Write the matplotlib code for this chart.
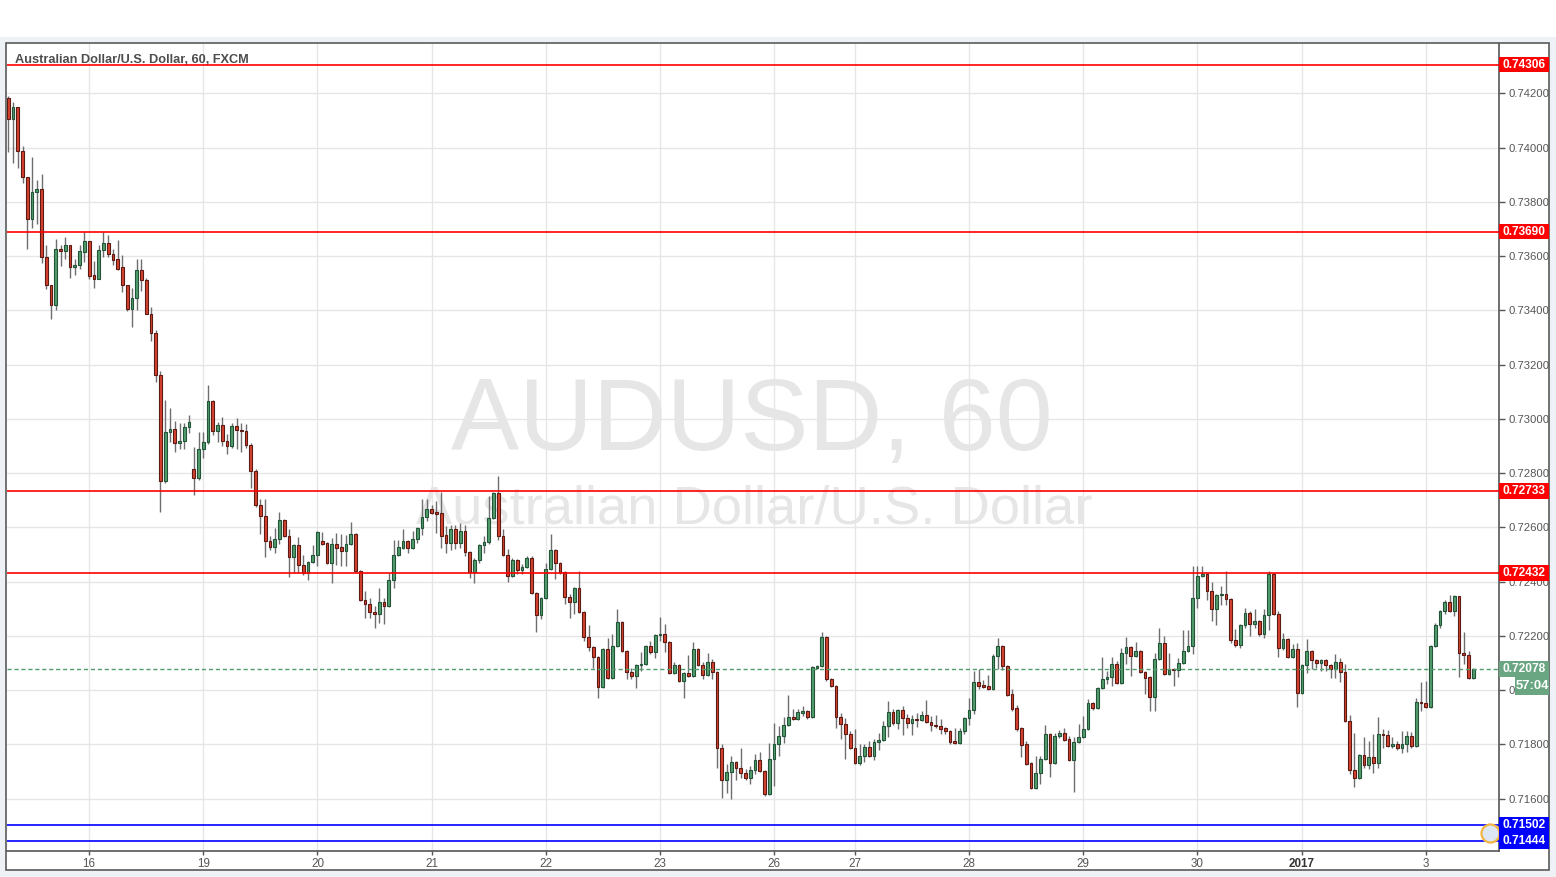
import matplotlib
matplotlib.use('Agg')
import matplotlib.pyplot as plt
from matplotlib.patches import Rectangle
import matplotlib.transforms as mtransforms
import numpy as np

plt.rcParams['font.family'] = ['Liberation Sans', 'DejaVu Sans']

# ---------------- data (AUD/USD, 60 min candles) ----------------
opens = [
0.74181,0.74104,0.74148,0.73986,0.73890,0.73738,0.73835,0.73849,0.73595,0.73495,
0.73418,0.73627,0.73617,0.73642,0.73558,0.73566,0.73614,0.73657,0.73529,0.73514,
0.73621,0.73650,0.73606,0.73588,0.73558,0.73495,0.73406,0.73447,0.73547,0.73510,
0.73388,0.73318,0.73160,0.72772,0.72952,0.72963,0.72912,0.72919,0.72971,0.72816,
0.72783,0.72889,0.72915,0.73067,0.72956,0.72978,0.72919,0.72901,0.72975,0.72960,
0.72956,0.72904,0.72809,0.72683,0.72643,0.72550,0.72528,0.72557,0.72628,0.72569,
0.72492,0.72535,0.72462,0.72433,0.72473,0.72499,0.72550,0.72543,0.72470,0.72539,
0.72528,0.72514,0.72539,0.72576,0.72440,0.72333,0.72318,0.72288,0.72281,0.72325,
0.72311,0.72407,0.72499,0.72524,0.72550,0.72524,0.72557,0.72598,0.72639,0.72668,
0.72657,0.72654,0.72572,0.72543,0.72594,0.72543,0.72587,0.72510,0.72436,0.72481,
0.72535,0.72546,0.72635,0.72728,0.72569,0.72499,0.72422,0.72481,0.72444,0.72455,
0.72488,0.72359,0.72277,0.72340,0.72447,0.72517,0.72470,0.72436,0.72344,0.72325,
0.72377,0.72288,0.72196,0.72159,0.72123,0.72012,0.72151,0.72045,0.72163,0.72251,
0.72145,0.72067,0.72053,0.72093,0.72097,0.72163,0.72141,0.72203,0.72207,0.72177,
0.72064,0.72093,0.72034,0.72064,0.72053,0.72151,0.72093,0.72056,0.72104,0.72067,
0.71786,0.71669,0.71698,0.71735,0.71713,0.71695,0.71676,0.71706,0.71743,0.71702,
0.71617,0.71746,0.71801,0.71831,0.71871,0.71901,0.71893,0.71916,0.71923,0.71901,
0.72082,0.72090,0.72196,0.72041,0.72016,0.71901,0.71875,0.71838,0.71786,0.71732,
0.71758,0.71790,0.71758,0.71808,0.71816,0.71868,0.71919,0.71879,0.71927,0.71897,
0.71879,0.71893,0.71890,0.71908,0.71882,0.71871,0.71868,0.71860,0.71849,0.71812,
0.71805,0.71849,0.71897,0.71927,0.72030,0.72019,0.72016,0.72004,0.72127,0.72163,
0.72090,0.71986,0.71934,0.71860,0.71801,0.71732,0.71639,0.71695,0.71746,0.71838,
0.71732,0.71831,0.71842,0.71819,0.71743,0.71808,0.71827,0.71856,0.71953,0.71934,
0.72008,0.72041,0.72049,0.72097,0.72027,0.72138,0.72159,0.72127,0.72145,0.72067,
0.72049,0.71975,0.72115,0.72174,0.72060,0.72078,0.72075,0.72101,0.72145,0.72163,
0.72340,0.72422,0.72429,0.72366,0.72299,0.72351,0.72355,0.72336,0.72185,0.72166,
0.72240,0.72285,0.72244,0.72255,0.72207,0.72277,0.72429,0.72281,0.72155,0.72188,
0.72123,0.72151,0.71990,0.72093,0.72145,0.72112,0.72101,0.72112,0.72093,0.72078,
0.72104,0.72067,0.71886,0.71706,0.71676,0.71761,0.71724,0.71754,0.71732,0.71838,
0.71834,0.71794,0.71801,0.71786,0.71801,0.71831,0.71794,0.71956,0.71953,0.71938,
0.72163,0.72240,0.72292,0.72325,0.72292,0.72348,0.72138,0.72130,0.72045]

highs = [
0.74189,0.74167,0.74148,0.74004,0.73890,0.73964,0.73879,0.73901,0.73639,0.73495,
0.73664,0.73642,0.73672,0.73642,0.73588,0.73639,0.73687,0.73657,0.73580,0.73639,
0.73687,0.73679,0.73627,0.73661,0.73603,0.73495,0.73484,0.73588,0.73591,0.73521,
0.73414,0.73329,0.73178,0.73071,0.73041,0.72993,0.72986,0.72986,0.73015,0.72897,
0.72952,0.72952,0.73123,0.73071,0.72989,0.73008,0.72945,0.72986,0.73004,0.72986,
0.72982,0.72912,0.72816,0.72705,0.72705,0.72569,0.72598,0.72657,0.72631,0.72594,
0.72539,0.72565,0.72499,0.72477,0.72535,0.72587,0.72583,0.72546,0.72561,0.72580,
0.72576,0.72572,0.72620,0.72580,0.72444,0.72366,0.72340,0.72311,0.72377,0.72340,
0.72433,0.72554,0.72554,0.72594,0.72554,0.72587,0.72602,0.72705,0.72705,0.72683,
0.72698,0.72731,0.72606,0.72609,0.72609,0.72617,0.72609,0.72514,0.72488,0.72539,
0.72569,0.72717,0.72731,0.72791,0.72594,0.72520,0.72488,0.72484,0.72466,0.72496,
0.72496,0.72362,0.72344,0.72470,0.72576,0.72520,0.72473,0.72440,0.72355,0.72381,
0.72440,0.72292,0.72240,0.72163,0.72127,0.72155,0.72192,0.72207,0.72299,0.72255,
0.72148,0.72082,0.72097,0.72141,0.72166,0.72181,0.72207,0.72270,0.72244,0.72181,
0.72104,0.72097,0.72067,0.72130,0.72177,0.72155,0.72104,0.72138,0.72115,0.72071,
0.71801,0.71728,0.71758,0.71739,0.71786,0.71709,0.71721,0.71765,0.71772,0.71706,
0.71805,0.71879,0.71868,0.71901,0.71982,0.71930,0.71930,0.71942,0.71927,0.72090,
0.72093,0.72214,0.72200,0.72045,0.72019,0.71916,0.71897,0.71849,0.71856,0.71801,
0.71801,0.71812,0.71819,0.71842,0.71886,0.71960,0.71930,0.71930,0.71942,0.71912,
0.71908,0.71916,0.71923,0.71964,0.71905,0.71908,0.71893,0.71864,0.71853,0.71860,
0.71860,0.71901,0.71971,0.72071,0.72078,0.72038,0.72056,0.72134,0.72192,0.72166,
0.72093,0.72004,0.71945,0.71864,0.71812,0.71735,0.71758,0.71758,0.71871,0.71842,
0.71842,0.71853,0.71860,0.71831,0.71827,0.71875,0.71905,0.71967,0.71956,0.72012,
0.72123,0.72071,0.72123,0.72108,0.72155,0.72196,0.72163,0.72177,0.72148,0.72071,
0.72053,0.72138,0.72229,0.72200,0.72138,0.72082,0.72119,0.72222,0.72222,0.72459,
0.72459,0.72459,0.72433,0.72399,0.72355,0.72385,0.72440,0.72340,0.72225,0.72244,
0.72303,0.72292,0.72299,0.72259,0.72299,0.72440,0.72433,0.72292,0.72211,0.72192,
0.72170,0.72174,0.72097,0.72188,0.72148,0.72115,0.72115,0.72115,0.72097,0.72134,
0.72119,0.72097,0.71908,0.71842,0.71765,0.71827,0.71812,0.71838,0.71901,0.71856,
0.71853,0.71827,0.71812,0.71849,0.71849,0.71845,0.71971,0.72030,0.72034,0.72166,
0.72248,0.72296,0.72333,0.72351,0.72351,0.72348,0.72214,0.72145,0.72083]

lows = [
0.73983,0.73942,0.73923,0.73868,0.73627,0.73705,0.73720,0.73573,0.73477,0.73369,
0.73403,0.73562,0.73588,0.73521,0.73529,0.73551,0.73577,0.73517,0.73484,0.73514,
0.73595,0.73595,0.73566,0.73547,0.73469,0.73399,0.73340,0.73403,0.73473,0.73388,
0.73288,0.73134,0.72657,0.72765,0.72915,0.72876,0.72889,0.72889,0.72949,0.72720,
0.72776,0.72857,0.72908,0.72941,0.72915,0.72901,0.72872,0.72893,0.72889,0.72876,
0.72893,0.72746,0.72676,0.72576,0.72492,0.72517,0.72507,0.72539,0.72565,0.72418,
0.72433,0.72433,0.72425,0.72407,0.72470,0.72459,0.72535,0.72466,0.72396,0.72462,
0.72459,0.72459,0.72535,0.72436,0.72329,0.72266,0.72266,0.72229,0.72248,0.72244,
0.72307,0.72377,0.72496,0.72520,0.72507,0.72520,0.72543,0.72572,0.72624,0.72650,
0.72580,0.72524,0.72507,0.72517,0.72520,0.72524,0.72496,0.72414,0.72396,0.72470,
0.72507,0.72539,0.72631,0.72554,0.72496,0.72399,0.72418,0.72429,0.72429,0.72451,
0.72355,0.72214,0.72262,0.72336,0.72444,0.72410,0.72429,0.72318,0.72266,0.72281,
0.72285,0.72181,0.72145,0.72082,0.71971,0.72008,0.72041,0.72041,0.72159,0.72141,
0.72041,0.72041,0.72008,0.72071,0.72093,0.72134,0.72119,0.72181,0.72141,0.72060,
0.72060,0.72030,0.71971,0.72049,0.72049,0.72090,0.72041,0.72053,0.72041,0.71713,
0.71602,0.71621,0.71598,0.71669,0.71676,0.71669,0.71654,0.71691,0.71698,0.71610,
0.71613,0.71647,0.71758,0.71805,0.71868,0.71890,0.71890,0.71905,0.71893,0.71897,
0.72078,0.72086,0.72034,0.72012,0.71860,0.71819,0.71746,0.71782,0.71728,0.71724,
0.71735,0.71754,0.71743,0.71779,0.71812,0.71827,0.71871,0.71856,0.71834,0.71860,
0.71834,0.71864,0.71886,0.71879,0.71849,0.71860,0.71838,0.71838,0.71801,0.71801,
0.71801,0.71838,0.71871,0.71912,0.72004,0.72008,0.72001,0.72001,0.72078,0.72075,
0.71979,0.71923,0.71849,0.71754,0.71724,0.71635,0.71635,0.71654,0.71743,0.71680,
0.71728,0.71823,0.71812,0.71739,0.71624,0.71805,0.71823,0.71853,0.71927,0.71930,
0.72004,0.72023,0.72016,0.72023,0.72023,0.72097,0.72053,0.72123,0.72064,0.71986,
0.71923,0.71923,0.72112,0.72056,0.72056,0.72016,0.72049,0.72097,0.72141,0.72134,
0.72303,0.72418,0.72333,0.72255,0.72240,0.72314,0.72314,0.72174,0.72159,0.72155,
0.72229,0.72200,0.72229,0.72200,0.72192,0.72222,0.72277,0.72123,0.72148,0.72119,
0.72119,0.71938,0.71986,0.72064,0.72078,0.72082,0.72071,0.72071,0.72045,0.72045,
0.72030,0.71882,0.71691,0.71643,0.71672,0.71713,0.71709,0.71695,0.71713,0.71786,
0.71790,0.71786,0.71779,0.71769,0.71772,0.71786,0.71790,0.71923,0.71934,0.71934,
0.72159,0.72229,0.72281,0.72288,0.72274,0.72049,0.72097,0.72041,0.72041]

closes = [
0.74104,0.74148,0.73986,0.73890,0.73738,0.73835,0.73849,0.73595,0.73495,0.73418,
0.73627,0.73617,0.73642,0.73558,0.73566,0.73617,0.73657,0.73525,0.73514,0.73621,
0.73650,0.73606,0.73584,0.73554,0.73492,0.73406,0.73447,0.73547,0.73510,0.73388,
0.73318,0.73160,0.72772,0.72952,0.72963,0.72912,0.72919,0.72971,0.72989,0.72783,
0.72889,0.72915,0.73067,0.72956,0.72978,0.72919,0.72901,0.72975,0.72960,0.72956,
0.72904,0.72809,0.72683,0.72643,0.72550,0.72528,0.72557,0.72628,0.72569,0.72492,
0.72535,0.72462,0.72433,0.72473,0.72499,0.72583,0.72539,0.72470,0.72539,0.72524,
0.72514,0.72539,0.72576,0.72440,0.72333,0.72318,0.72288,0.72281,0.72325,0.72311,
0.72407,0.72499,0.72528,0.72550,0.72524,0.72557,0.72598,0.72639,0.72668,0.72654,
0.72650,0.72569,0.72543,0.72594,0.72543,0.72587,0.72510,0.72436,0.72481,0.72535,
0.72546,0.72635,0.72728,0.72569,0.72499,0.72422,0.72481,0.72444,0.72455,0.72488,
0.72359,0.72277,0.72340,0.72447,0.72517,0.72470,0.72436,0.72344,0.72325,0.72377,
0.72288,0.72196,0.72159,0.72123,0.72012,0.72151,0.72045,0.72163,0.72251,0.72145,
0.72067,0.72053,0.72093,0.72097,0.72163,0.72141,0.72203,0.72207,0.72177,0.72064,
0.72093,0.72034,0.72064,0.72053,0.72151,0.72093,0.72056,0.72104,0.72067,0.71786,
0.71669,0.71698,0.71735,0.71713,0.71695,0.71676,0.71706,0.71743,0.71702,0.71617,
0.71746,0.71801,0.71831,0.71871,0.71901,0.71893,0.71919,0.71923,0.71901,0.72086,
0.72090,0.72196,0.72041,0.72016,0.71901,0.71875,0.71838,0.71786,0.71732,0.71758,
0.71790,0.71758,0.71808,0.71816,0.71868,0.71919,0.71879,0.71927,0.71897,0.71879,
0.71893,0.71890,0.71908,0.71882,0.71871,0.71868,0.71856,0.71849,0.71808,0.71805,
0.71849,0.71897,0.71927,0.72030,0.72016,0.72012,0.72004,0.72127,0.72163,0.72090,
0.71982,0.71930,0.71856,0.71797,0.71728,0.71639,0.71695,0.71746,0.71838,0.71732,
0.71831,0.71842,0.71816,0.71743,0.71808,0.71827,0.71856,0.71953,0.71934,0.72008,
0.72041,0.72049,0.72097,0.72027,0.72138,0.72159,0.72127,0.72145,0.72067,0.72045,
0.71975,0.72115,0.72174,0.72060,0.72075,0.72075,0.72101,0.72145,0.72163,0.72340,
0.72422,0.72429,0.72366,0.72299,0.72351,0.72355,0.72336,0.72185,0.72166,0.72240,
0.72285,0.72244,0.72255,0.72207,0.72277,0.72429,0.72281,0.72155,0.72188,0.72123,
0.72151,0.71990,0.72093,0.72145,0.72112,0.72101,0.72112,0.72093,0.72078,0.72104,
0.72067,0.71886,0.71706,0.71676,0.71761,0.71724,0.71754,0.71732,0.71838,0.71834,
0.71794,0.71801,0.71786,0.71801,0.71831,0.71794,0.71956,0.71953,0.71938,0.72163,
0.72240,0.72292,0.72325,0.72292,0.72348,0.72138,0.72130,0.72045,0.72078]

day_labels = ['16', '19', '20', '21', '22', '23', '26', '27', '28', '29', '30', '2017', '3']
day_first_bar = [17, 41, 65, 89, 113, 137, 161, 178, 202, 226, 250, 272, 298]
price_ticks = [0.716, 0.718, 0.720, 0.722, 0.724, 0.726, 0.728, 0.730,
               0.732, 0.734, 0.736, 0.738, 0.740, 0.742]
resistance_levels = [0.74306, 0.73690, 0.72733, 0.72432]
support_levels = [0.71502, 0.71444]
last_price = 0.72078
countdown = '57:04'
symbol_title = 'Australian Dollar/U.S. Dollar, 60, FXCM'
watermark_main = 'AUDUSD, 60'
watermark_sub = 'Australian Dollar/U.S. Dollar'

# ---------------- figure ----------------
W, H = 1556, 877
fig = plt.figure(figsize=(W / 100, H / 100), dpi=100)
fig.patch.set_facecolor('#eef1f5')
fig.patches.append(Rectangle((0, 1 - 37 / H), 1, 37 / H, transform=fig.transFigure,
                             facecolor='white', edgecolor='none', zorder=-2))
fig.patches.append(Rectangle((6 / W, 7 / H), 1543 / W, 827 / H, transform=fig.transFigure,
                             facecolor='white', edgecolor='#5a5a5a', linewidth=1.2, zorder=-1))

ax = fig.add_axes([7 / W, 26 / H, 1492 / W, 807 / H])
ax.set_zorder(1)
ax.set_facecolor('white')
ax.set_xlim(-0.27, 313.4)
ax.set_ylim(0.714071, 0.743817)

for s in ['left', 'top']:
    ax.spines[s].set_visible(False)
for s in ['right', 'bottom']:
    ax.spines[s].set_color('#555555')
    ax.spines[s].set_linewidth(1.2)

# grid
for p in price_ticks:
    ax.axhline(p, color='#e6e6e6', lw=1, zorder=0.6)
for d in day_first_bar:
    ax.axvline(d, color='#e6e6e6', lw=1, zorder=0.6)

# watermark
ax.text(0.4995, 0.530, watermark_main, transform=ax.transAxes, ha='center', va='center',
        fontsize=73.5, color='#e6e6e6', zorder=0.5)
ax.text(0.5005, 0.423, watermark_sub, transform=ax.transAxes, ha='center', va='center',
        fontsize=39.2, color='#e6e6e6', zorder=0.5)

# candles
o = np.array(opens); h = np.array(highs); l = np.array(lows); c = np.array(closes)
x = np.arange(len(o))
up = c >= o
ax.vlines(x, l, h, color='#6e6e70', lw=1.0, zorder=2)
body_lo = np.minimum(o, c)
body_h = np.maximum(np.abs(c - o), 0.00003)
ax.bar(x[up], body_h[up], bottom=body_lo[up], width=0.58, color='#519d6c',
       edgecolor='#225437', linewidth=0.8, zorder=3)
ax.bar(x[~up], body_h[~up], bottom=body_lo[~up], width=0.58, color='#d6432e',
       edgecolor='#5b1a13', linewidth=0.8, zorder=3)

# horizontal levels
for p in resistance_levels:
    ax.axhline(p, color='#ff0000', lw=1.2, zorder=4)
for p in support_levels:
    ax.axhline(p, color='#0000ff', lw=1.2, zorder=4)
ax.axhline(last_price, color='#4f9e6c', lw=1.0, ls=(0, (3, 2)), zorder=4)

# axes ticks
ax.yaxis.tick_right()
ax.set_yticks(price_ticks)
ax.set_yticklabels(['%.5f' % p for p in price_ticks])
ax.tick_params(axis='y', direction='out', length=4, width=1, color='#555555',
               labelsize=8.1, labelcolor='#555555', pad=3)
ax.set_xticks(day_first_bar)
ax.set_xticklabels(day_labels)
ax.tick_params(axis='x', direction='out', length=3, width=1, color='#555555',
               labelsize=8.4, labelcolor='#555555', pad=2)
for t in ax.get_xticklabels():
    if t.get_text() == '2017':
        t.set_fontweight('bold')
        t.set_color('#333333')

# price label boxes on the right axis
ytr = mtransforms.blended_transform_factory(ax.transAxes, ax.transData)
px = (ax.get_ylim()[1] - ax.get_ylim()[0]) / 807.0
ax_w = 1492.0


def price_box(p, face, text, dy=0.0, x0_px=0, w_px=50, h_px=15.6, fs=8.6):
    yc = p + dy
    x0 = 1.0 + x0_px / ax_w
    w = w_px / ax_w
    ax.add_patch(Rectangle((x0, yc - h_px / 2 * px), w, h_px * px, transform=ytr,
                           facecolor=face, edgecolor='none', clip_on=False, zorder=6))
    ax.text(x0 + w / 2, yc, text, transform=ytr, ha='center', va='center',
            color='white', fontsize=fs, fontweight='bold', clip_on=False, zorder=7)


for p in resistance_levels:
    price_box(p, '#ff0000', '%.5f' % p)
for p in support_levels:
    price_box(p, '#0000ff', '%.5f' % p)
price_box(last_price, '#6aa682', '%.5f' % last_price)
price_box(last_price, '#6aa682', countdown, dy=-17.0 * px, x0_px=16, w_px=34,
          h_px=17.5, fs=9.4)

# little currency icon near the bottom-right corner
ax.plot([1 - 9 / ax_w], [(support_levels[0] + support_levels[1]) / 2], transform=ytr,
        marker='o', ms=13, mfc='#dde6f3', mec='#f2b544', mew=1.6, clip_on=False, zorder=5)

# title
ax.text(8 / ax_w, 1 - 16 / 807, symbol_title, transform=ax.transAxes, ha='left', va='center',
        fontsize=9.2, color='#4d4d4d', fontweight='bold', zorder=1)

fig.savefig('out.png', dpi=100, facecolor=fig.get_facecolor())
